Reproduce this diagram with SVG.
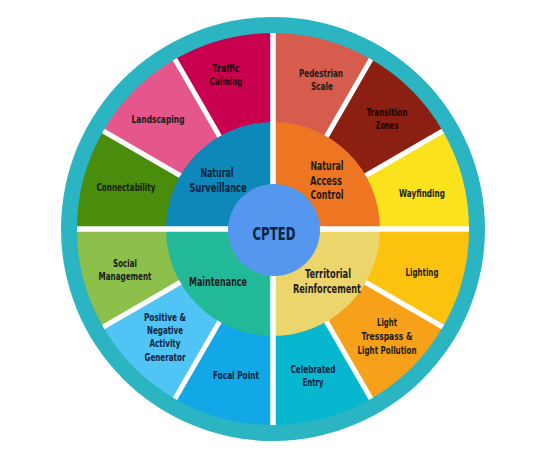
<svg xmlns="http://www.w3.org/2000/svg" width="547" height="456" viewBox="0 0 547 456">
<style>
text{font-family:"DejaVu Sans Condensed","DejaVu Sans","Liberation Sans",sans-serif;font-weight:bold;text-anchor:middle;fill:#1b1b1b}
.o{font-size:11px}
.i{font-size:12.4px}
.n{fill:#0c2340}
.sep{stroke:#fff;fill:none}
</style>
<rect width="547" height="456" fill="#fff"/>
<circle id="ring" cx="273" cy="229" r="212" fill="#2bb5c2"/>

<g id="pedestrian-scale">
<path d="M273,229 L273,33 A196,196 0 0 1 371,59.26 Z" fill="#d65c4e"/>
<text class="o" x="321" y="77" textLength="44" lengthAdjust="spacingAndGlyphs">Pedestrian</text>
<text class="o" x="322" y="90" textLength="22" lengthAdjust="spacingAndGlyphs">Scale</text>
</g>
<g id="transition-zones">
<path d="M273,229 L371,59.26 A196,196 0 0 1 442.74,131 Z" fill="#8a1f12"/>
<text class="o" x="387" y="116" textLength="41" lengthAdjust="spacingAndGlyphs" style="fill:#1a0500">Transition</text>
<text class="o" x="387" y="129" textLength="23" lengthAdjust="spacingAndGlyphs" style="fill:#1a0500">Zones</text>
</g>
<g id="wayfinding">
<path d="M273,229 L442.74,131 A196,196 0 0 1 469,229 Z" fill="#fbe21c"/>
<text class="o" x="422" y="197" textLength="46" lengthAdjust="spacingAndGlyphs">Wayfinding</text>
</g>
<g id="lighting">
<path d="M273,229 L469,229 A196,196 0 0 1 442.74,327 Z" fill="#fcc30e"/>
<text class="o" x="422" y="276" textLength="33" lengthAdjust="spacingAndGlyphs">Lighting</text>
</g>
<g id="light-tresspass">
<path d="M273,229 L442.74,327 A196,196 0 0 1 371,398.74 Z" fill="#f7a11a"/>
<text class="o" x="387" y="326" textLength="20" lengthAdjust="spacingAndGlyphs">Light</text>
<text class="o" x="387" y="340" textLength="51" lengthAdjust="spacingAndGlyphs">Tresspass &amp;</text>
<text class="o" x="387" y="354" textLength="59" lengthAdjust="spacingAndGlyphs">Light Pollution</text>
</g>
<g id="celebrated-entry">
<path d="M273,229 L371,398.74 A196,196 0 0 1 273,425 Z" fill="#07b6cf"/>
<text class="o n" x="313" y="373" textLength="45" lengthAdjust="spacingAndGlyphs">Celebrated</text>
<text class="o n" x="313" y="386" textLength="21" lengthAdjust="spacingAndGlyphs">Entry</text>
</g>
<g id="focal-point">
<path d="M273,229 L273,425 A196,196 0 0 1 175,398.74 Z" fill="#12a7e6"/>
<text class="o n" x="236" y="379" textLength="46" lengthAdjust="spacingAndGlyphs">Focal Point</text>
</g>
<g id="activity-generator">
<path d="M273,229 L175,398.74 A196,196 0 0 1 103.26,327 Z" fill="#4fc4f5"/>
<text class="o n" x="165" y="321" textLength="42" lengthAdjust="spacingAndGlyphs">Positive &amp;</text>
<text class="o n" x="165" y="334" textLength="36" lengthAdjust="spacingAndGlyphs">Negative</text>
<text class="o n" x="165" y="347" textLength="31" lengthAdjust="spacingAndGlyphs">Activity</text>
<text class="o n" x="165" y="361" textLength="41" lengthAdjust="spacingAndGlyphs">Generator</text>
</g>
<g id="social-management">
<path d="M273,229 L103.26,327 A196,196 0 0 1 77,229 Z" fill="#8cc04b"/>
<text class="o" x="125" y="267" textLength="24" lengthAdjust="spacingAndGlyphs">Social</text>
<text class="o" x="125" y="280" textLength="53" lengthAdjust="spacingAndGlyphs">Management</text>
</g>
<g id="connectability">
<path d="M273,229 L77,229 A196,196 0 0 1 103.26,131 Z" fill="#4a8c0b"/>
<text class="o" x="126" y="191" textLength="59" lengthAdjust="spacingAndGlyphs">Connectability</text>
</g>
<g id="landscaping">
<path d="M273,229 L103.26,131 A196,196 0 0 1 175,59.26 Z" fill="#e5578a"/>
<text class="o" x="158" y="123" textLength="53" lengthAdjust="spacingAndGlyphs">Landscaping</text>
</g>
<g id="traffic-calming">
<path d="M273,229 L175,59.26 A196,196 0 0 1 273,33 Z" fill="#c8004d"/>
<text class="o" x="226" y="72" textLength="27" lengthAdjust="spacingAndGlyphs" style="fill:#2b0010">Traffic</text>
<text class="o" x="226" y="85" textLength="33" lengthAdjust="spacingAndGlyphs" style="fill:#2b0010">Calming</text>
</g>

<g id="connectors" class="sep" stroke-width="5">
<line x1="322.5" y1="143.3" x2="371" y2="59.26"/>
<line x1="359" y1="179.5" x2="442.74" y2="131"/>
<line x1="359" y1="278.5" x2="442.74" y2="327"/>
<line x1="322.5" y1="314.7" x2="371" y2="398.74"/>
<line x1="223.5" y1="314.7" x2="175" y2="398.74"/>
<line x1="187" y1="278.5" x2="103.26" y2="327"/>
<line x1="187" y1="179.5" x2="103.26" y2="131"/>
<line x1="223.5" y1="143.3" x2="175" y2="59.26"/>
</g>

<g id="natural-access-control">
<path d="M273,229 L273,122 A107,107 0 0 1 380,229 Z" fill="#ee7623"/>
<text class="i" x="327" y="170" textLength="33" lengthAdjust="spacingAndGlyphs">Natural</text>
<text class="i" x="326" y="184.5" textLength="32" lengthAdjust="spacingAndGlyphs">Access</text>
<text class="i" x="327" y="199" textLength="33" lengthAdjust="spacingAndGlyphs">Control</text>
</g>
<g id="territorial-reinforcement">
<path d="M273,229 L380,229 A107,107 0 0 1 273,336 Z" fill="#ecd56b"/>
<text class="i" x="328" y="278" textLength="46" lengthAdjust="spacingAndGlyphs">Territorial</text>
<text class="i" x="327" y="293" textLength="68" lengthAdjust="spacingAndGlyphs">Reinforcement</text>
</g>
<g id="maintenance">
<path d="M273,229 L273,336 A107,107 0 0 1 166,229 Z" fill="#22b998"/>
<text class="i" x="218" y="286" textLength="58" lengthAdjust="spacingAndGlyphs">Maintenance</text>
</g>
<g id="natural-surveillance">
<path d="M273,229 L166,229 A107,107 0 0 1 273,122 Z" fill="#0e88b8"/>
<text class="i n" x="217" y="177" textLength="33" lengthAdjust="spacingAndGlyphs">Natural</text>
<text class="i n" x="218" y="192" textLength="57" lengthAdjust="spacingAndGlyphs">Surveillance</text>
</g>

<g id="cross" class="sep" stroke-width="5.5">
<line x1="77" y1="229" x2="469" y2="229"/>
<line x1="273" y1="33" x2="273" y2="425"/>
</g>

<g id="cpted">
<circle cx="274" cy="230" r="46" fill="#5597ee"/>
<text x="274" y="240" font-size="18" textLength="43" lengthAdjust="spacingAndGlyphs" class="n">CPTED</text>
</g>
</svg>
